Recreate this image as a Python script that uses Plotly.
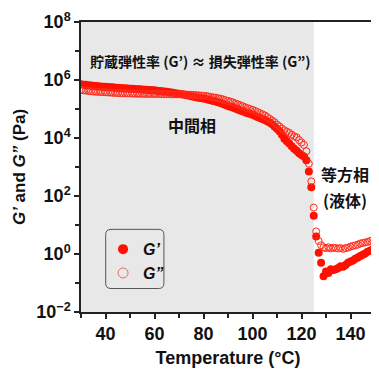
import plotly.graph_objects as go

temperature_c = [30, 31, 32, 33, 34, 35, 36, 37, 38, 39,
                 40, 41, 42, 43, 44, 45, 46, 47, 48, 49,
                 50, 51, 52, 53, 54, 55, 56, 57, 58, 59,
                 60, 61, 62, 63, 64, 65, 66, 67, 68, 69,
                 70, 71, 72, 73, 74, 75, 76, 77, 78, 79,
                 80, 81, 82, 83, 84, 85, 86, 87, 88, 89,
                 90, 91, 92, 93, 94, 95, 96, 97, 98, 99,
                 100, 101, 102, 103, 104, 105, 106, 107, 108, 109,
                 110, 111, 112, 113, 114, 115, 116, 117, 118, 119,
                 120, 121, 122, 123, 124, 125, 126, 127, 128, 129,
                 130, 131, 132, 133, 134, 135, 136, 137, 138, 139,
                 140, 141, 142, 143, 144, 145, 146, 147, 148, 149, 150]

# storage modulus G' (Pa)
g_storage = [7.2e5, 6.9e5, 6.8e5, 6.6e5, 6.5e5, 6.3e5, 6.2e5, 6.1e5, 6.0e5, 5.9e5,
             5.8e5, 5.7e5, 5.6e5, 5.6e5, 5.4e5, 5.4e5, 5.3e5, 5.2e5, 5.2e5, 5.1e5,
             5.0e5, 5.0e5, 4.9e5, 4.8e5, 4.8e5, 4.7e5, 4.6e5, 4.6e5, 4.5e5, 4.4e5,
             4.4e5, 4.3e5, 4.2e5, 4.1e5, 4.0e5, 3.9e5, 3.8e5, 3.7e5, 3.55e5, 3.45e5,
             3.35e5, 3.25e5, 3.15e5, 3.0e5, 2.9e5, 2.75e5, 2.65e5, 2.55e5, 2.45e5, 2.4e5,
             2.3e5, 2.2e5, 2.1e5, 2.0e5, 1.9e5, 1.8e5, 1.7e5, 1.6e5, 1.5e5, 1.38e5,
             1.27e5, 1.2e5, 1.12e5, 1.04e5, 9.6e4, 8.9e4, 8.3e4, 7.8e4, 7.2e4, 6.8e4,
             6.3e4, 5.8e4, 5.3e4, 4.9e4, 4.5e4, 4.2e4, 3.8e4, 3.4e4, 3.0e4, 2.5e4,
             2.1e4, 1.7e4, 1.3e4, 9.5e3, 7.7e3, 6.4e3, 5.2e3, 4.3e3, 3.6e3, 3.0e3,
             2.6e3, 2.3e3, 1.7e3, 7.0e2, 2.0e2, 21.0, 4.0, 1.1, 0.5, 0.17,
             0.25, 0.22, 0.3, 0.28, 0.3, 0.33, 0.38, 0.36, 0.42, 0.5,
             0.55, 0.6, 0.68, 0.75, 0.85, 0.95, 1.05, 1.2, 1.3, 1.45, 1.6]

# loss modulus G'' (Pa)
g_loss = [4.6e5, 4.4e5, 4.3e5, 4.2e5, 4.1e5, 4.0e5, 3.95e5, 3.9e5, 3.85e5, 3.8e5,
          3.8e5, 3.7e5, 3.7e5, 3.6e5, 3.6e5, 3.55e5, 3.5e5, 3.5e5, 3.5e5, 3.45e5,
          3.45e5, 3.4e5, 3.4e5, 3.35e5, 3.35e5, 3.35e5, 3.3e5, 3.3e5, 3.3e5, 3.3e5,
          3.3e5, 3.3e5, 3.3e5, 3.25e5, 3.25e5, 3.25e5, 3.25e5, 3.2e5, 3.2e5, 3.2e5,
          3.2e5, 3.2e5, 3.15e5, 3.15e5, 3.1e5, 3.1e5, 3.05e5, 3.0e5, 2.95e5, 2.9e5,
          2.85e5, 2.8e5, 2.7e5, 2.6e5, 2.5e5, 2.45e5, 2.35e5, 2.25e5, 2.15e5, 2.0e5,
          1.9e5, 1.8e5, 1.7e5, 1.55e5, 1.45e5, 1.35e5, 1.25e5, 1.15e5, 1.07e5, 1.0e5,
          9.3e4, 8.6e4, 7.9e4, 7.2e4, 6.6e4, 6.0e4, 5.3e4, 4.6e4, 4.0e4, 3.5e4,
          2.9e4, 2.5e4, 2.1e4, 1.85e4, 1.65e4, 1.5e4, 1.3e4, 1.15e4, 1.05e4, 8.5e3,
          7.0e3, 5.8e3, 3.5e3, 1.3e3, 3.2e2, 40.0, 6.0, 2.8, 2.0, 1.7,
          1.6, 1.7, 1.55, 1.65, 1.6, 1.55, 1.6, 1.5, 1.6, 1.65,
          1.8, 1.9, 2.0, 2.1, 2.3, 2.4, 2.5, 2.6, 2.8, 3.0, 3.1]

x_tick_vals = [40, 60, 80, 100, 120, 140]
x_minor_vals = [30, 50, 70, 90, 110, 130, 150]
y_tick_vals = [1e-2, 1e0, 1e2, 1e4, 1e6, 1e8]
y_tick_text = ["10<sup>\u22122</sup>", "10<sup>0</sup>", "10<sup>2</sup>",
               "10<sup>4</sup>", "10<sup>6</sup>", "10<sup>8</sup>"]
y_minor_vals = [1e-1, 1e1, 1e3, 1e5, 1e7]

mesophase_range = [30, 125]

LAT = "Liberation Sans, Arial, Helvetica, sans-serif"
CJK = "Noto Sans CJK JP, Noto Sans CJK SC, sans-serif"
RED = "#ff1000"
RED_OPEN = "#ff2a1a"

fig = go.Figure()
fig.add_trace(go.Scatter(
    x=temperature_c, y=g_storage, mode="markers", name="G\u2019", showlegend=False,
    marker=dict(symbol="circle", size=8, color=RED, line=dict(width=0)),
))
fig.add_trace(go.Scatter(
    x=temperature_c, y=g_loss, mode="markers", name="G\u201d", showlegend=False,
    marker=dict(symbol="circle-open", size=7, color=RED_OPEN, line=dict(width=1)),
))
# legend-only entries (larger symbols, as in the reference key)
fig.add_trace(go.Scatter(
    x=[None], y=[None], mode="markers", name="<b><i>G\u2019</i></b>",
    marker=dict(symbol="circle", size=10, color=RED, line=dict(width=0)),
))
fig.add_trace(go.Scatter(
    x=[None], y=[None], mode="markers", name="<b><i>G\u201d</i></b>",
    marker=dict(symbol="circle-open", size=10, color="#f06a5a", line=dict(width=1)),
))

fig.add_shape(type="rect", xref="x", yref="paper",
              x0=mesophase_range[0], x1=mesophase_range[1], y0=0, y1=1,
              fillcolor="#e8e8e8", line=dict(width=0), layer="below")

# rounded legend frame (paper coords)
x0, x1, y0, y1 = 0.084, 0.282, 0.081, 0.285
rx, ry = 0.018, 0.018
path = (f"M {x0+rx},{y0} L {x1-rx},{y0} Q {x1},{y0} {x1},{y0+ry} "
        f"L {x1},{y1-ry} Q {x1},{y1} {x1-rx},{y1} L {x0+rx},{y1} "
        f"Q {x0},{y1} {x0},{y1-ry} L {x0},{y0+ry} Q {x0},{y0} {x0+rx},{y0} Z")
fig.add_shape(type="path", xref="paper", yref="paper", path=path,
              line=dict(color="#555555", width=1), fillcolor="rgba(0,0,0,0)")

ann_font = dict(family=CJK, size=14, color="#111111", weight="bold")
big_font = dict(family=CJK, size=16, color="#111111", weight="bold")
fig.add_annotation(x=0.405, y=0.865, xref="paper", yref="paper",
                   xanchor="center", yanchor="middle",
                   text="貯蔵弾性率 (G\u2019) \u2248 損失弾性率 (G\u201d)",
                   showarrow=False, font=ann_font)
fig.add_annotation(x=0.378, y=0.645, xref="paper", yref="paper",
                   xanchor="center", yanchor="middle",
                   text="中間相", showarrow=False, font=big_font)
fig.add_annotation(x=0.898, y=0.475, xref="paper", yref="paper",
                   xanchor="center", yanchor="middle",
                   text="等方相", showarrow=False, font=big_font)
fig.add_annotation(x=0.898, y=0.387, xref="paper", yref="paper",
                   xanchor="center", yanchor="middle",
                   text="(液体)", showarrow=False, font=big_font)

axis_line = dict(showline=True, linecolor="#222222", linewidth=1.5, mirror=True,
                 ticks="outside", ticklen=5, tickwidth=1.5, tickcolor="#222222",
                 showgrid=False, zeroline=False, ticklabeloverflow="allow")

fig.update_xaxes(range=[30, 150], tickvals=x_tick_vals,
                 tickfont=dict(family=LAT, size=18, color="#111111", weight="bold"),
                 minor=dict(tickvals=x_minor_vals, ticks="outside", ticklen=4,
                            tickwidth=1.5, tickcolor="#222222"),
                 title=dict(text="Temperature (\u00b0C)", standoff=8,
                            font=dict(family=LAT, size=18, color="#111111", weight="bold")),
                 **axis_line)
fig.update_yaxes(type="log", range=[-2, 8], tickvals=y_tick_vals, ticktext=y_tick_text,
                 tickfont=dict(family=LAT, size=18, color="#111111", weight="bold"),
                 minor=dict(tickvals=y_minor_vals, ticks="outside", ticklen=4,
                            tickwidth=1.5, tickcolor="#222222"),
                 title=dict(text="<i>G\u2019</i> and <i>G\u201d</i> (Pa)", standoff=6,
                            font=dict(family=LAT, size=17, color="#111111", weight="bold")),
                 **axis_line)

# page body has an 8px margin, so the figure is sized/offset to compensate
fig.update_layout(
    width=371, height=361,
    margin=dict(l=73, r=2, t=9, b=57),
    paper_bgcolor="white", plot_bgcolor="white",
    showlegend=True,
    legend=dict(x=0.075, y=0.275, xanchor="left", yanchor="top",
                bgcolor="rgba(0,0,0,0)", borderwidth=0, itemsizing="trace",
                tracegroupgap=0, itemwidth=30,
                font=dict(family=LAT, size=16, color="#111111")),
)

fig.write_html("out.html")
